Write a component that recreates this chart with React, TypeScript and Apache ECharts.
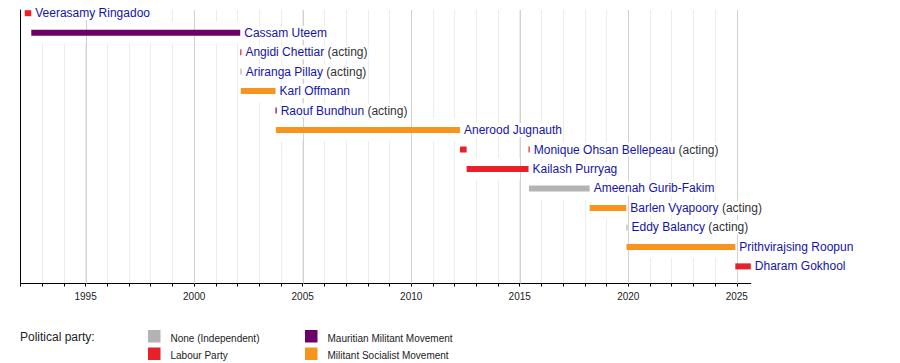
import React, { useEffect, useRef } from "react";
import * as echarts from "echarts";

const FONT = '"Liberation Sans", Arial, sans-serif';

const presidents = [
  "Veerasamy Ringadoo",
  "Cassam Uteem",
  "Angidi Chettiar",
  "Ariranga Pillay",
  "Karl Offmann",
  "Raouf Bundhun",
  "Anerood Jugnauth",
  "Monique Ohsan Bellepeau",
  "Kailash Purryag",
  "Ameenah Gurib-Fakim",
  "Barlen Vyapoory",
  "Eddy Balancy",
  "Prithvirajsing Roopun",
  "Dharam Gokhool",
];
const acting = [false, false, true, true, false, true, false, true, false, false, true, true, false, false];

const partyNames = ["None (Independent)", "Labour Party", "Mauritian Militant Movement", "Militant Socialist Movement"];
const partyColors = ["#b3b3b3", "#e8202a", "#6b006b", "#f7941d"];

// terms of office (decimal years)
const termPresident = [0, 1, 2, 3, 4, 5, 6, 7, 8, 7, 9, 10, 11, 12, 13];
const termStart = [1992.194, 1992.497, 2002.123, 2002.132, 2002.151, 2003.748, 2003.765, 2012.246, 2012.553, 2015.405, 2015.425, 2018.222, 2019.91, 2019.918, 2024.93];
const termEnd = [1992.495, 2002.123, 2002.132, 2002.151, 2003.748, 2003.765, 2012.246, 2012.553, 2015.405, 2015.425, 2018.222, 2019.91, 2019.918, 2024.93, 2025.645];
const termParty = [1, 2, 1, 0, 3, 2, 3, 1, 1, 1, 0, 3, 0, 3, 1];

const axisMin = 1992;
const axisMax = 2025.645;
const majorGridYears = [1995, 2000, 2005, 2010, 2015, 2020, 2025];

const nameColor = "#1414a6";

export default function App() {
  const ref = useRef<HTMLDivElement>(null);
  useEffect(() => {
    if (!ref.current) return;
    const chart = echarts.init(ref.current, null, { renderer: "svg" });

    const lastTerm: number[] = presidents.map(() => -1);
    termPresident.forEach((p, i) => {
      if (lastTerm[p] < 0 || termEnd[i] >= termEnd[lastTerm[p]]) lastTerm[p] = i;
    });

    const termData = termPresident.map((p, i) => [termStart[i], termEnd[i], p, termParty[i], lastTerm[p] === i ? 1 : 0]);

    const legendGraphics: any[] = [
      {
        type: "text",
        x: 20,
        y: 337,
        style: { text: "Political party:", fill: "#222", font: `12px ${FONT}`, verticalAlign: "middle", align: "left" },
      },
    ];
    partyNames.forEach((name, i) => {
      const col = Math.floor(i / 2);
      const row = i % 2;
      const x = 148 + col * 157;
      const y = 330 + row * 17.5;
      legendGraphics.push({
        type: "rect",
        shape: { x, y, width: 12.5, height: 12.5 },
        style: { fill: partyColors[i] },
      });
      legendGraphics.push({
        type: "text",
        x: x + 22.5,
        y: y + 8,
        style: { text: name, fill: "#222", font: `10px ${FONT}`, verticalAlign: "middle", align: "left" },
      });
    });

    const option: any = {
      animation: false,
      grid: { left: 20.5, top: 10, width: 730.3, height: 273.5, containLabel: false },
      xAxis: {
        type: "value",
        min: axisMin,
        max: axisMax,
        interval: 1,
        axisLine: { show: true, onZero: false, lineStyle: { color: "#000", width: 1 } },
        axisTick: { show: true, length: 3, lineStyle: { color: "#000" } },
        axisLabel: {
          formatter: (v: number) => (Math.abs(v % 5) < 1e-6 ? String(Math.round(v)) : ""),
          fontSize: 10,
          fontFamily: FONT,
          color: "#222",
          margin: 8,
          showMaxLabel: false,
        },
        splitLine: { show: true, showMinLine: false, showMaxLine: false, lineStyle: { color: "#ececec", width: 1 } },
      },
      yAxis: {
        type: "value",
        inverse: true,
        min: -0.164,
        max: 13.88,
        axisLine: { show: true, onZero: false, lineStyle: { color: "#000", width: 1 } },
        axisTick: { show: false },
        axisLabel: { show: false },
        splitLine: { show: false },
      },
      graphic: legendGraphics,
      series: [
        {
          type: "custom",
          name: "bands",
          z: 2,
          clip: false,
          silent: true,
          encode: { x: [0, 1], y: 2 },
          data: termData,
          renderItem: (params: any, api: any) => {
            const p0 = api.coord([api.value(0), api.value(2)]);
            const p1 = api.coord([api.value(1), api.value(2)]);
            return {
              type: "rect",
              shape: { x: p0[0] - 1, y: p0[1] - 11, width: p1[0] - p0[0] + 2, height: 22 },
              style: { fill: "#fff" },
            };
          },
        },
        {
          type: "custom",
          name: "major grid",
          z: 3,
          clip: false,
          silent: true,
          encode: { x: 0, y: 1 },
          data: majorGridYears.map((y) => [y, 0]),
          renderItem: (params: any, api: any) => {
            const cs = params.coordSys;
            const x = Math.round(api.coord([api.value(0), 0])[0]) + 0.5;
            return {
              type: "line",
              shape: { x1: x, y1: cs.y, x2: x, y2: cs.y + cs.height },
              style: { stroke: "#d2d2d2", lineWidth: 1 },
            };
          },
        },
        {
          type: "custom",
          name: "terms",
          z: 4,
          clip: false,
          encode: { x: [0, 1], y: 2 },
          data: termData,
          renderItem: (params: any, api: any) => {
            const row = api.value(2);
            const party = api.value(3);
            const isLast = api.value(4);
            const p0 = api.coord([api.value(0), row]);
            const p1 = api.coord([api.value(1), row]);
            const w = Math.max(p1[0] - p0[0], 1.2);
            const h = 6;
            const children: any[] = [
              {
                type: "rect",
                shape: { x: p0[0], y: p0[1] - h / 2, width: w, height: h },
                style: { fill: partyColors[party] },
              },
            ];
            if (isLast) {
              const name = presidents[row];
              const text = acting[row] ? `{n|${name}} {a|(acting)}` : `{n|${name}}`;
              children.push({
                type: "text",
                x: p0[0] + w + 3,
                y: p0[1],
                style: {
                  text,
                  fontSize: 12,
                  fontFamily: FONT,
                  fill: "#333",
                  align: "left",
                  verticalAlign: "middle",
                  backgroundColor: "#fff",
                  padding: [1, 1, 1, 1],
                  rich: {
                    n: { fill: nameColor, fontSize: 12, fontFamily: FONT },
                    a: { fill: "#333", fontSize: 12, fontFamily: FONT },
                  },
                },
              });
            }
            return { type: "group", children };
          },
        },
      ],
    };
    chart.setOption(option);
    return () => chart.dispose();
  }, []);

  return (
    <div
      ref={ref}
      style={{ position: "fixed", left: 0, top: 0, width: 900, height: 363, background: "#fff" }}
    />
  );
}
